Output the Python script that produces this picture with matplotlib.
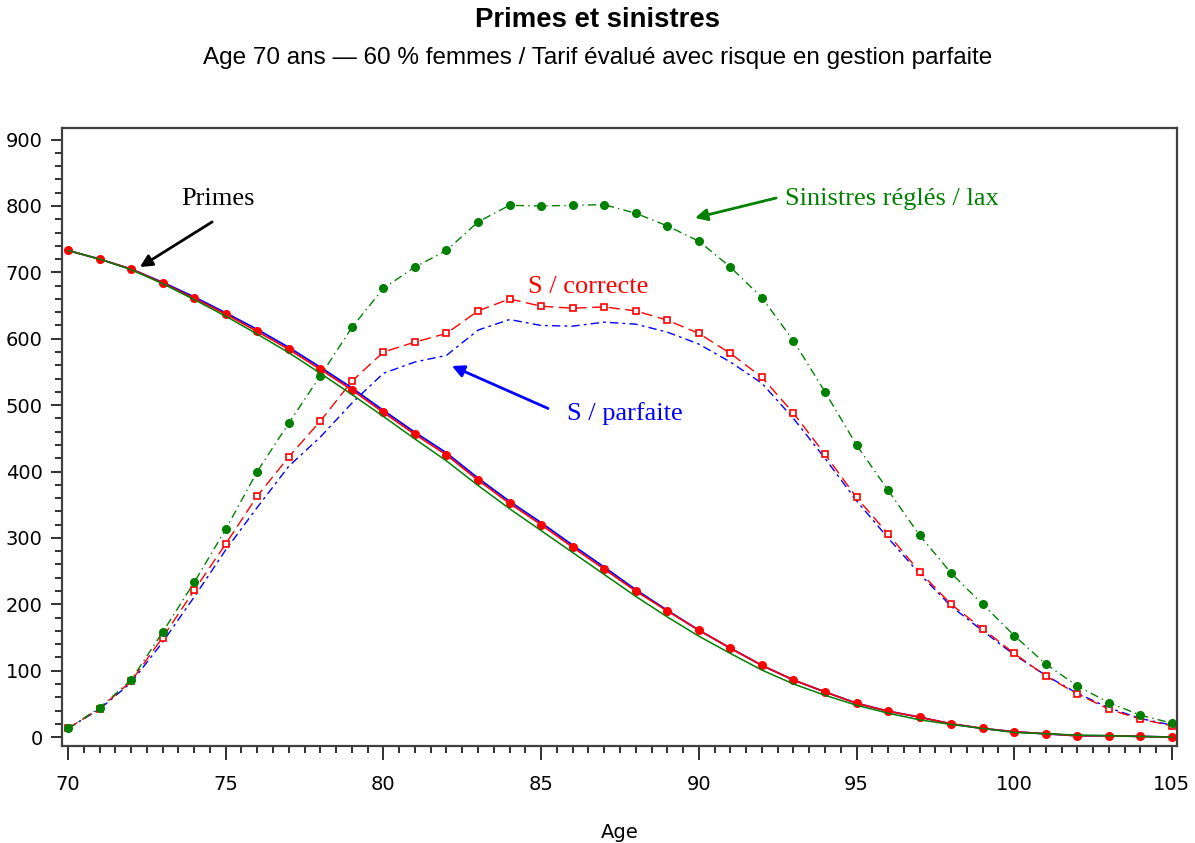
import matplotlib.pyplot as plt
from matplotlib.ticker import MultipleLocator

# Ages 70..105
ages = list(range(70, 106))

# Primes (three tariffs, nearly identical)
primes_correcte = [733, 720, 705, 684, 661, 637, 611, 584, 554, 523, 489, 456, 425, 387,
                   352, 320, 286, 253, 220, 190, 161, 134, 108, 86, 68, 51, 39, 30, 20,
                   13, 8, 5, 2, 2, 1, 0]
primes_parfaite = [733, 720, 705, 685, 663, 639, 614, 587, 557, 526, 492, 459, 428, 390,
                   355, 323, 289, 256, 222, 191, 161, 134, 108, 86, 68, 51, 39, 30, 20,
                   13, 8, 5, 2, 2, 1, 0]
primes_lax = [733, 720, 704, 683, 659, 634, 607, 579, 548, 516, 483, 449, 416, 379,
              344, 311, 278, 245, 212, 181, 152, 126, 101, 80, 63, 48, 36, 26, 19,
              13, 7, 5, 3, 2, 1, 0]

# Sinistres
sin_lax = [13, 44, 86, 158, 233, 313, 400, 473, 544, 617, 676, 708, 733, 776,
           801, 800, 801, 802, 789, 770, 747, 708, 662, 597, 520, 440, 372, 304, 247,
           200, 153, 110, 77, 52, 33, 21]
sin_correcte = [13, 43, 84, 150, 221, 291, 363, 422, 476, 536, 580, 595, 608, 642,
                660, 649, 646, 648, 642, 628, 608, 578, 542, 488, 426, 361, 306, 249, 200,
                163, 126, 92, 65, 42, 27, 17]
sin_parfaite = [13, 42, 82, 143, 211, 282, 346, 408, 452, 503, 548, 565, 575, 613,
                629, 620, 619, 625, 622, 610, 592, 565, 533, 480, 420, 356, 300, 246, 197,
                160, 124, 93, 66, 44, 28, 18]

GREEN = "#008000"
RED = "#ff0000"
BLUE = "#0000ff"

fig = plt.figure(figsize=(11.95, 8.43), dpi=100)
ax = fig.add_axes([0.0519, 0.1154, 0.933, 0.7324])

# sinistres curves
ax.plot(ages, sin_parfaite, color=BLUE, lw=1, linestyle=(0, (6, 3, 2, 3)))
ax.plot(ages, sin_correcte, color=RED, lw=1, linestyle=(0, (8, 4)),
        marker="s", ms=5, mfc="white", mec=RED, mew=1.2)
ax.plot(ages, sin_lax, color=GREEN, lw=1, linestyle=(0, (6, 3, 1, 3)),
        marker="o", ms=5.5, mfc=GREEN, mec=GREEN)

# primes curves
ax.plot(ages, primes_parfaite, color=BLUE, lw=1.3)
ax.plot(ages, primes_correcte, color=RED, lw=1.2,
        marker="o", ms=5.5, mfc=RED, mec=RED)
ax.plot(ages, primes_lax, color=GREEN, lw=1.1)

ax.set_xlim(69.81, 105.16)
ax.set_ylim(-13, 917)
ax.xaxis.set_major_locator(MultipleLocator(5))
ax.xaxis.set_minor_locator(MultipleLocator(0.5))
ax.yaxis.set_major_locator(MultipleLocator(100))
ax.yaxis.set_minor_locator(MultipleLocator(20))

for s in ax.spines.values():
    s.set_color("#404040")
    s.set_linewidth(1.6)

ax.tick_params(axis="both", which="both", direction="out", color="#202020", width=1.3)
ax.tick_params(axis="x", which="major", length=10, pad=11, labelsize=14)
ax.tick_params(axis="x", which="minor", length=5)
ax.tick_params(axis="y", which="major", length=8, pad=6, labelsize=14)
ax.tick_params(axis="y", which="minor", length=5)
for lab in ax.get_xticklabels() + ax.get_yticklabels():
    lab.set_family("DejaVu Sans")

ax.set_xlabel("Age", fontsize=14, family="DejaVu Sans", labelpad=21)

# titles
fig.text(0.5, 0.976, "Primes et sinistres", ha="center", va="center",
         fontsize=19.8, fontweight="bold", family="Liberation Sans")
fig.text(0.5, 0.931, "Age 70 ans \u2014 60 % femmes / Tarif \u00e9valu\u00e9 avec risque en gestion parfaite",
         ha="center", va="center", fontsize=17.5, family="Liberation Sans")

# annotations: labels and arrows
serif = "Liberation Serif"
ax.text(74.76, 811, "Primes", ha="center", va="center",
        fontsize=19, family=serif, color="black")
ax.text(92.73, 811, "Sinistres r\u00e9gl\u00e9s / lax", ha="left", va="center",
        fontsize=19, family=serif, color=GREEN)
ax.text(86.49, 678, "S / correcte", ha="center", va="center",
        fontsize=19, family=serif, color=RED)
ax.text(87.66, 488, "S / parfaite", ha="center", va="center",
        fontsize=19, family=serif, color=BLUE)

arrows = [((74.57, 776), (72.28, 708), "black"),
          ((92.45, 812), (89.88, 782), GREEN),
          ((85.22, 495), (82.17, 559), BLUE)]
for tail, head, col in arrows:
    ax.annotate("", xy=head, xytext=tail,
                arrowprops=dict(arrowstyle="-|>", color=col, lw=2, mutation_scale=18,
                                shrinkA=0, shrinkB=0))

fig.savefig("out.png", dpi=100)
